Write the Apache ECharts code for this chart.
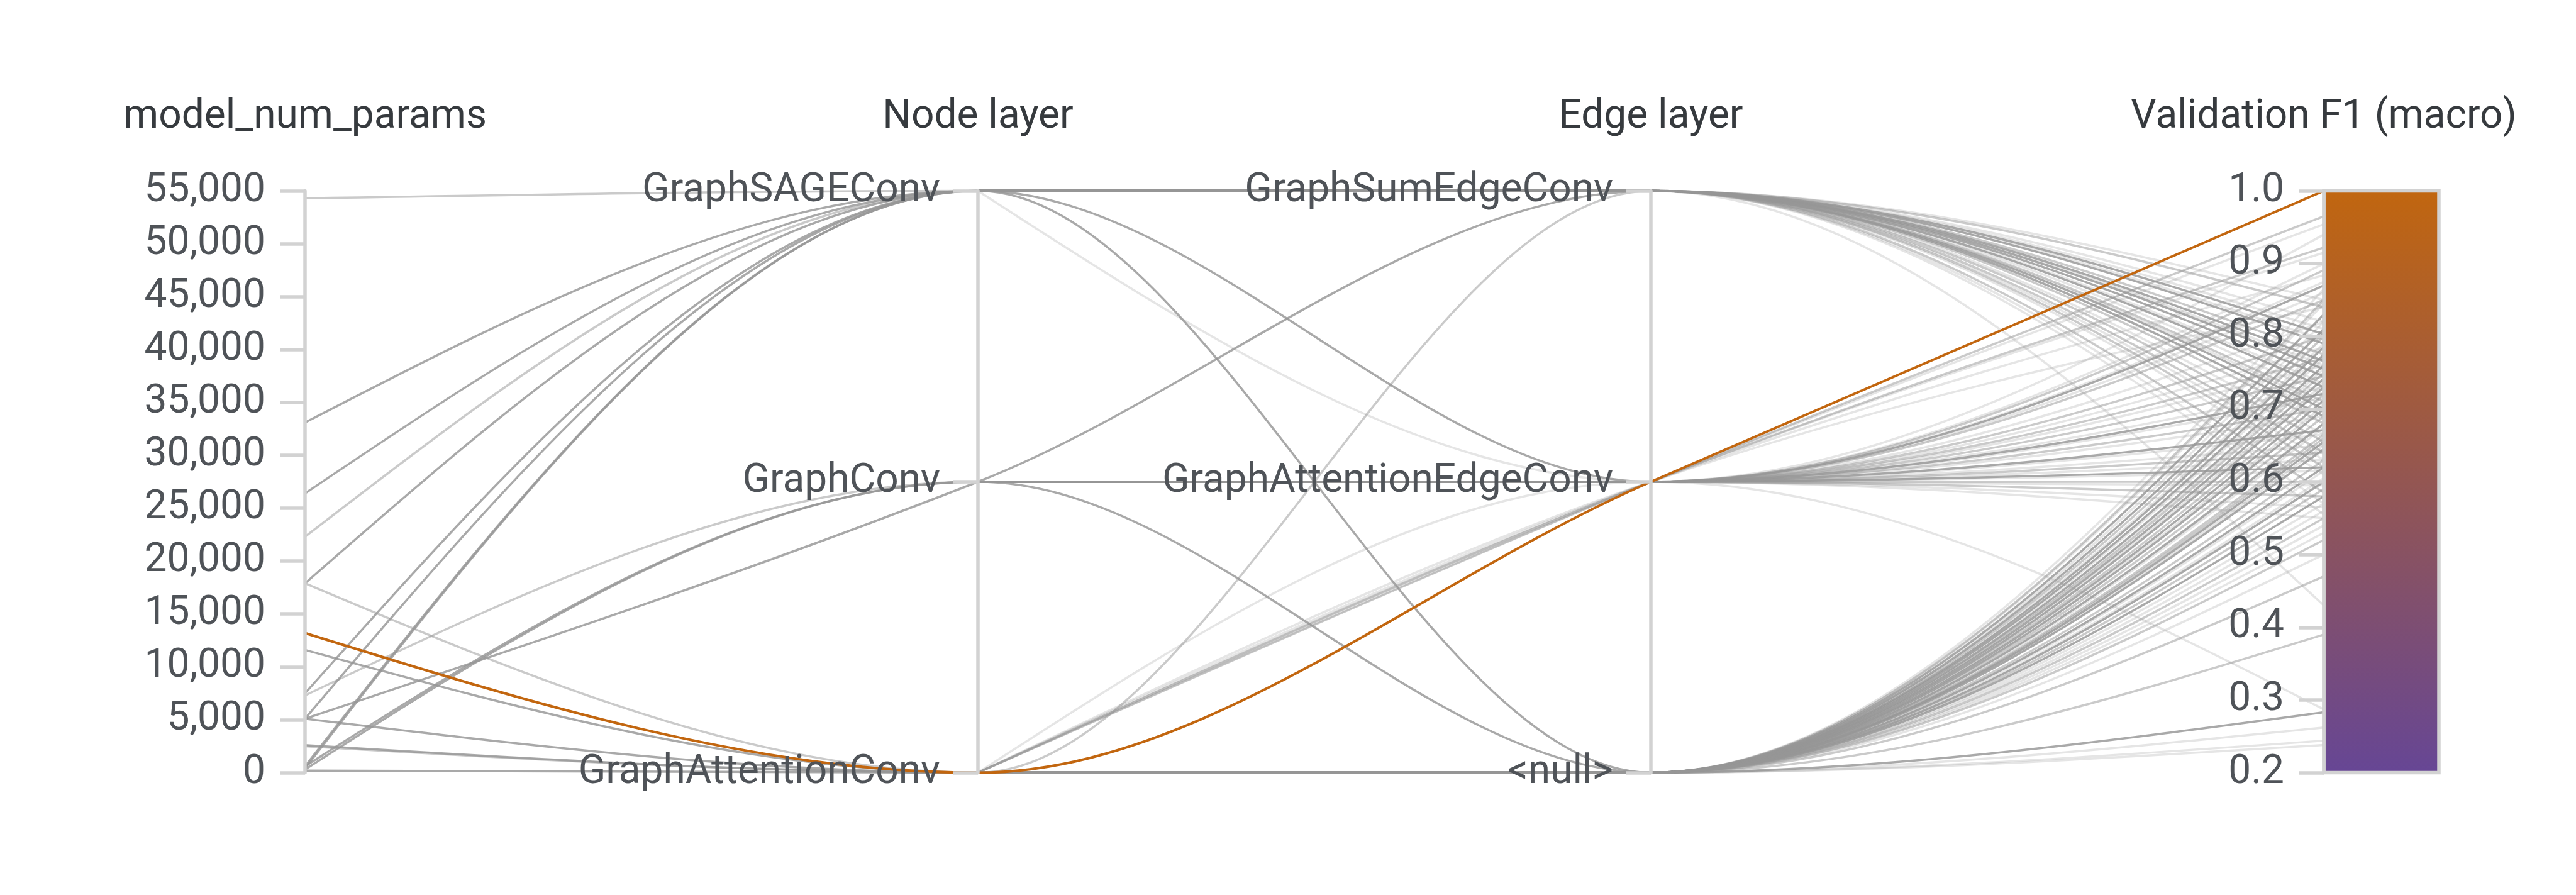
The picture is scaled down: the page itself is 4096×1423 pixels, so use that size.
<!DOCTYPE html>
<html>
<head>
<meta charset="utf-8">
<script src="https://cdn.jsdelivr.net/npm/echarts@6/dist/echarts.min.js"></script>
<style>
html,body{margin:0;padding:0;background:#ffffff;}
#chart{width:4096px;height:1423px;}
</style>
</head>
<body>
<div id="chart"></div>
<script>
// ---- category names ----
const SAGE = 'GraphSAGEConv', GCONV = 'GraphConv', GAC = 'GraphAttentionConv';
const GSEC = 'GraphSumEdgeConv', GAEC = 'GraphAttentionEdgeConv', NUL = '<null>';

const dimensionNames = ['model_num_params', 'Node layer', 'Edge layer', 'Validation F1 (macro)'];
const nodeLayerCategories = [GAC, GCONV, SAGE];
const edgeLayerCategories = [NUL, GAEC, GSEC];
const paramsRange = [0, 55000, 5000];
const f1Range = [0.2, 1.0, 0.1];

// ---- runs: [model_num_params, Node layer, Edge layer, Validation F1 (macro)] ----
const bestRun = [
  [13200, GAC, GAEC, 1.0]
];

const strongRuns = [
  [33100, SAGE, GSEC, 0.803],
  [26400, SAGE, GAEC, 0.721],
  [17900, SAGE, NUL, 0.785],
  [11600, GAC, NUL, 0.742],
  [7500, SAGE, GSEC, 0.766],
  [5100, SAGE, GSEC, 0.755],
  [5100, GCONV, GSEC, 0.690],
  [5100, GAC, NUL, 0.712],
  [2600, GAC, NUL, 0.283],
  [600, SAGE, GSEC, 0.730],
  [400, SAGE, GSEC, 0.700],
  [600, GCONV, GAEC, 0.671],
  [300, GCONV, NUL, 0.655],
  [200, GAC, NUL, 0.600],
  [null, SAGE, GSEC, 0.790],
  [null, SAGE, GSEC, 0.745],
  [null, GCONV, GAEC, 0.870],
  [null, GCONV, GAEC, 0.620],
  [null, GAC, NUL, 0.830],
  [null, GAC, NUL, 0.810],
  [null, GAC, NUL, 0.775],
  [null, GAC, NUL, 0.760],
  [null, GAC, NUL, 0.730],
  [null, GAC, NUL, 0.700],
  [null, GAC, NUL, 0.680],
  [null, GAC, NUL, 0.645],
  [null, GAC, NUL, 0.620],
  [null, GAC, NUL, 0.580]
];

const mediumRuns = [
  [54300, SAGE, GSEC, 0.620],
  [22300, SAGE, GSEC, 0.655],
  [17900, GAC, GSEC, 0.585],
  [7300, GCONV, GAEC, 0.640],
  [2500, GAC, NUL, 0.660],
  [null, SAGE, GSEC, 0.840],
  [null, SAGE, GSEC, 0.775],
  [null, SAGE, GSEC, 0.710],
  [null, SAGE, GSEC, 0.680],
  [null, SAGE, GSEC, 0.640],
  [null, GAC, GAEC, 0.965],
  [null, GAC, GAEC, 0.922],
  [null, GCONV, GAEC, 0.891],
  [null, GCONV, GAEC, 0.850],
  [null, GCONV, GAEC, 0.800],
  [null, GCONV, GAEC, 0.770],
  [null, GCONV, GAEC, 0.745],
  [null, GCONV, GAEC, 0.700],
  [null, GCONV, GAEC, 0.600],
  [null, GCONV, GAEC, 0.580],
  [null, GAC, NUL, 0.850],
  [null, GAC, NUL, 0.800],
  [null, GAC, NUL, 0.750],
  [null, GAC, NUL, 0.720],
  [null, GAC, NUL, 0.690],
  [null, GAC, NUL, 0.665],
  [null, GAC, NUL, 0.630],
  [null, GAC, NUL, 0.590],
  [null, GAC, NUL, 0.550],
  [null, GAC, NUL, 0.520],
  [null, GAC, NUL, 0.470],
  [null, GAC, NUL, 0.390]
];

const faintRuns = [
  [null, SAGE, GAEC, 0.860],
  [null, SAGE, GSEC, 0.850],
  [null, SAGE, GSEC, 0.820],
  [null, SAGE, GSEC, 0.810],
  [null, SAGE, GSEC, 0.795],
  [null, SAGE, GSEC, 0.760],
  [null, SAGE, GSEC, 0.735],
  [null, SAGE, GSEC, 0.720],
  [null, SAGE, GSEC, 0.705],
  [null, SAGE, GSEC, 0.665],
  [null, SAGE, GSEC, 0.630],
  [null, SAGE, GSEC, 0.610],
  [null, SAGE, GSEC, 0.570],
  [null, SAGE, GSEC, 0.555],
  [null, SAGE, GSEC, 0.430],
  [null, GAC, GAEC, 0.954],
  [null, GAC, GAEC, 0.915],
  [null, GAC, GAEC, 0.884],
  [null, GAC, GAEC, 0.840],
  [null, GAC, GAEC, 0.287],
  [null, GCONV, GAEC, 0.940],
  [null, GCONV, GAEC, 0.900],
  [null, GCONV, GAEC, 0.875],
  [null, GCONV, GAEC, 0.820],
  [null, GCONV, GAEC, 0.785],
  [null, GCONV, GAEC, 0.760],
  [null, GCONV, GAEC, 0.730],
  [null, GCONV, GAEC, 0.715],
  [null, GCONV, GAEC, 0.690],
  [null, GCONV, GAEC, 0.665],
  [null, GCONV, GAEC, 0.650],
  [null, GCONV, GAEC, 0.630],
  [null, GCONV, GAEC, 0.615],
  [null, GCONV, GAEC, 0.595],
  [null, GCONV, GAEC, 0.565],
  [null, GCONV, GAEC, 0.550],
  [null, GAC, NUL, 0.865],
  [null, GAC, NUL, 0.845],
  [null, GAC, NUL, 0.820],
  [null, GAC, NUL, 0.790],
  [null, GAC, NUL, 0.770],
  [null, GAC, NUL, 0.755],
  [null, GAC, NUL, 0.735],
  [null, GAC, NUL, 0.705],
  [null, GAC, NUL, 0.675],
  [null, GAC, NUL, 0.650],
  [null, GAC, NUL, 0.615],
  [null, GAC, NUL, 0.605],
  [null, GAC, NUL, 0.570],
  [null, GAC, NUL, 0.560],
  [null, GAC, NUL, 0.540],
  [null, GAC, NUL, 0.530],
  [null, GAC, NUL, 0.500],
  [null, GAC, NUL, 0.262],
  [null, GAC, NUL, 0.244],
  [null, GAC, NUL, 0.238]
];

// ---- layout & style ----
const PL = 485, PT = 303.5, PW = 3210, PH = 925;
const FONT = 'Roboto';
const AXIS_GRAY = '#d2d2d2';

const chart = echarts.init(document.getElementById('chart'), null, {renderer: 'canvas'});

// parallel axes put labels/ticks on the right by default: negative margin/length puts them on the left
const axisCommon = {
  nameLocation: 'end',
  nameGap: 85,
  nameTextStyle: {fontFamily: FONT, fontSize: 64, color: '#363a3e'},
  axisLine: {show: true, lineStyle: {color: AXIS_GRAY, width: 5.5}},
  axisTick: {show: true, length: -40, lineStyle: {color: AXIS_GRAY, width: 5.5}},
  axisLabel: {show: true, fontFamily: FONT, fontSize: 64, color: '#4f5358', margin: -63, align: 'right'},
  splitLine: {show: false}
};

function axis(extra) {
  const a = JSON.parse(JSON.stringify(axisCommon));
  Object.keys(extra).forEach(k => {
    if (typeof extra[k] === 'object' && !Array.isArray(extra[k]) && a[k]) Object.assign(a[k], extra[k]);
    else a[k] = extra[k];
  });
  return a;
}

const parallelAxis = [
  axis({dim: 0, name: dimensionNames[0], type: 'value', min: paramsRange[0], max: paramsRange[1], interval: paramsRange[2]}),
  axis({dim: 1, name: dimensionNames[1], type: 'category', data: nodeLayerCategories, boundaryGap: false, axisLabel: {margin: -60, interval: 0}}),
  axis({dim: 2, name: dimensionNames[2], type: 'category', data: edgeLayerCategories, boundaryGap: false, axisLabel: {margin: -60, interval: 0}}),
  axis({dim: 3, name: dimensionNames[3], type: 'value', min: f1Range[0], max: f1Range[1], interval: f1Range[2]})
];
parallelAxis[0].axisLabel.formatter = v => Number(v).toLocaleString('en-US');
parallelAxis[3].axisLabel.formatter = v => Number(v).toFixed(1);

const groups = [
  {data: faintRuns, color: 'rgba(150,150,150,0.25)', width: 3.5},
  {data: mediumRuns, color: 'rgba(150,150,150,0.5)', width: 3.5},
  {data: strongRuns, color: 'rgba(150,150,150,0.82)', width: 3.5},
  {data: bestRun, color: '#c2660f', width: 4}
];

chart.setOption({
  animation: false,
  backgroundColor: '#ffffff',
  parallel: {
    left: PL, top: PT, width: PW, height: PH,
    layout: 'horizontal'
  },
  parallelAxis: parallelAxis,
  graphic: [{
    type: 'rect',
    z: 1,
    shape: {x: PL + PW, y: PT, width: 183, height: PH},
    style: {
      fill: new echarts.graphic.LinearGradient(0, 0, 0, 1, [
        {offset: 0, color: '#c1660f'},
        {offset: 1, color: '#664695'}
      ]),
      stroke: AXIS_GRAY,
      lineWidth: 5.5
    }
  }],
  series: groups.map(g => ({
    type: 'parallel',
    parallelIndex: 0,
    silent: true,
    smooth: false,
    data: g.data,
    lineStyle: {color: g.color, width: g.width, opacity: 1},
    emphasis: {disabled: true}
  }))
});

// Curve interpolation: monotone in x between the library-computed axis points
function monotoneX(ctx, pts) {
  const n = pts.length;
  if (!n) return;
  ctx.moveTo(pts[0][0], pts[0][1]);
  if (n === 2) { ctx.lineTo(pts[1][0], pts[1][1]); return; }
  const h = [], s = [], t = [];
  for (let i = 0; i < n - 1; i++) {
    h[i] = pts[i + 1][0] - pts[i][0];
    s[i] = h[i] ? (pts[i + 1][1] - pts[i][1]) / h[i] : 0;
  }
  const sign = v => (v < 0 ? -1 : 1);
  for (let i = 1; i < n - 1; i++) {
    const p = (s[i - 1] * h[i] + s[i] * h[i - 1]) / (h[i - 1] + h[i]);
    t[i] = (sign(s[i - 1]) + sign(s[i])) *
      Math.min(Math.abs(s[i - 1]), Math.abs(s[i]), 0.5 * Math.abs(p)) || 0;
  }
  t[0] = (3 * s[0] - t[1]) / 2;
  t[n - 1] = (3 * s[n - 2] - t[n - 2]) / 2;
  for (let i = 0; i < n - 1; i++) {
    const x0 = pts[i][0], y0 = pts[i][1], x1 = pts[i + 1][0], y1 = pts[i + 1][1];
    const d = h[i] / 3;
    ctx.bezierCurveTo(x0 + d, y0 + d * t[i], x1 - d, y1 - d * t[i + 1], x1, y1);
  }
}

function applyMonotone() {
  const zr = chart.getZr();
  zr.storage.getDisplayList(true).forEach(el => {
    if (el.type === 'polyline' && !el.__mono) {
      el.__mono = true;
      el.buildPath = function (ctx, shape) { monotoneX(ctx, shape.points); };
      el.dirtyShape();
    }
  });
  zr.refreshImmediately();
}
applyMonotone();
</script>
</body>
</html>
